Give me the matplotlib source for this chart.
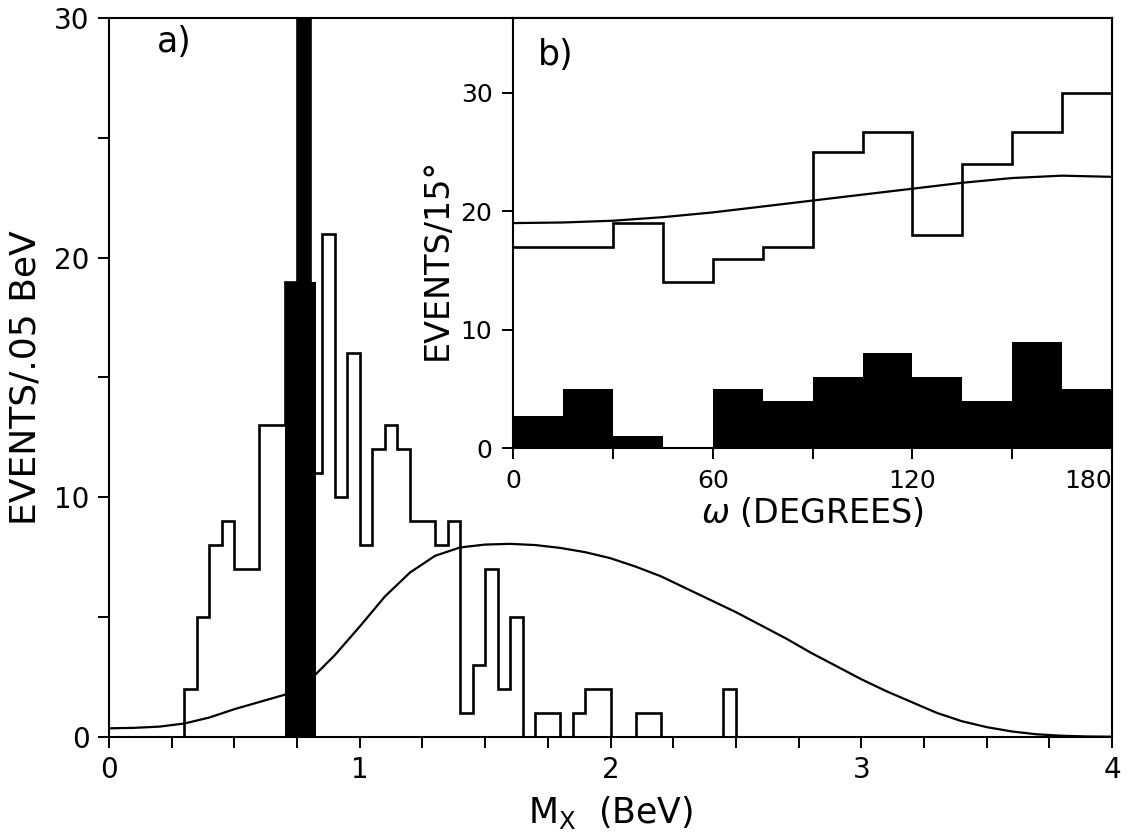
import numpy as np
import matplotlib
matplotlib.use('Agg')
import matplotlib.pyplot as plt

plt.rcParams['font.family'] = ['DejaVu Sans']

# a) missing-mass histogram, bins of .05 BeV starting at 0.30
mass_start = 0.30
mass_bin = 0.05
mass_counts = [2, 5, 8, 9, 7, 7, 13, 13, 19, 40, 11, 21, 10, 16, 8, 12, 13, 12,
               9, 9, 8, 9, 1, 3, 7, 2, 5, 0, 1, 1, 0, 1, 2, 2, 0, 0, 1, 1,
               0, 0, 0, 0, 0, 2]

# shaded omega band
omega_edges = [0.70, 0.75, 0.80, 0.825]
omega_counts = [19, 40, 19]

# phase-space curve
curve_x = [0.0, 0.1, 0.2, 0.3, 0.4, 0.5, 0.6, 0.7, 0.8, 0.9, 1.0, 1.1, 1.2,
           1.3, 1.4, 1.5, 1.6, 1.7, 1.8, 1.9, 2.0, 2.1, 2.2, 2.3, 2.4, 2.5,
           2.6, 2.7, 2.8, 2.9, 3.0, 3.1, 3.2, 3.3, 3.4, 3.5, 3.6, 3.7, 3.8,
           3.9, 4.0]
curve_y = [0.35, 0.37, 0.42, 0.55, 0.8, 1.15, 1.45, 1.75, 2.35, 3.4, 4.6,
           5.85, 6.85, 7.55, 7.9, 8.02, 8.05, 8.0, 7.88, 7.7, 7.45, 7.1, 6.7,
           6.2, 5.7, 5.2, 4.65, 4.1, 3.5, 2.95, 2.4, 1.9, 1.45, 1.0, 0.65,
           0.4, 0.22, 0.1, 0.04, 0.01, 0.0]

# b) omega decay angle distribution, 15 degree bins
ang_edges = [0, 15, 30, 45, 60, 75, 90, 105, 120, 135, 150, 165, 180]
ang_all = [17, 17, 19, 14, 16, 17, 25, 26.7, 18, 24, 26.7, 30]
ang_bkg = [2.7, 5, 1, 0, 5, 4, 6, 8, 6, 4, 9, 5]
ang_curve_x = [0, 15, 30, 45, 60, 75, 90, 105, 120, 135, 150, 165, 180]
ang_curve_y = [19.0, 19.05, 19.2, 19.5, 19.9, 20.4, 20.9, 21.4, 21.9, 22.4,
               22.8, 23.0, 22.9]

fig = plt.figure(figsize=(11.31, 8.33), dpi=100)
ax = fig.add_axes([0.0964, 0.1156, 0.8868, 0.8628])

mass_edges = mass_start + mass_bin * np.arange(len(mass_counts) + 1)
ax.plot(curve_x, curve_y, color='black', lw=1.6)
ax.stairs(mass_counts, mass_edges, baseline=0, color='black', lw=1.9)
ax.stairs(omega_counts, omega_edges, baseline=0, fill=True, color='black')

ax.set_xlim(0, 4)
ax.set_ylim(0, 30)
ax.set_xticks([0, 1, 2, 3, 4])
ax.set_xticks(np.arange(0, 4.01, 0.25), minor=True)
ax.set_yticks([0, 10, 20, 30])
ax.set_yticks([5, 15, 25], minor=True)
ax.tick_params(which='both', direction='out', length=8, width=1.4,
               labelsize=20, pad=6)
for s in ax.spines.values():
    s.set_linewidth(1.5)
ax.set_xlabel(r'M$_{\mathrm{X}}$  (BeV)', fontsize=25, labelpad=7)
ax.set_ylabel('EVENTS/.05 BeV', fontsize=26, labelpad=8)
ax.text(0.19, 29.0, 'a)', fontsize=25, ha='left', va='center')

# inset b)
axb = fig.add_axes([0.4538, 0.4618, 0.5294, 0.5166])
axb.set_facecolor('white')
axb.stairs(ang_bkg, ang_edges, baseline=0, fill=True, color='black')
axb.stairs(ang_all, ang_edges, baseline=None, color='black', lw=1.9)
axb.plot(ang_curve_x, ang_curve_y, color='black', lw=1.6)
axb.set_xlim(0, 180)
axb.set_ylim(0, 36.3)
axb.set_xticks([0, 60, 120, 180])
axb.set_xticks([30, 90, 150], minor=True)
axb.set_yticks([0, 10, 20, 30])
axb.tick_params(which='both', direction='out', length=8, width=1.4,
                labelsize=18, pad=7)
labs = axb.get_xticklabels()
labs[-1].set_ha('right')
for s in axb.spines.values():
    s.set_linewidth(1.5)
axb.set_xlabel(r'$\omega$ (DEGREES)', fontsize=24, labelpad=2)
axb.set_ylabel('EVENTS/15°', fontsize=24)
axb.yaxis.set_label_coords(-0.10, 0.44)
axb.text(7.5, 33.2, 'b)', fontsize=25, ha='left', va='center')

fig.savefig('out.png', dpi=100)
